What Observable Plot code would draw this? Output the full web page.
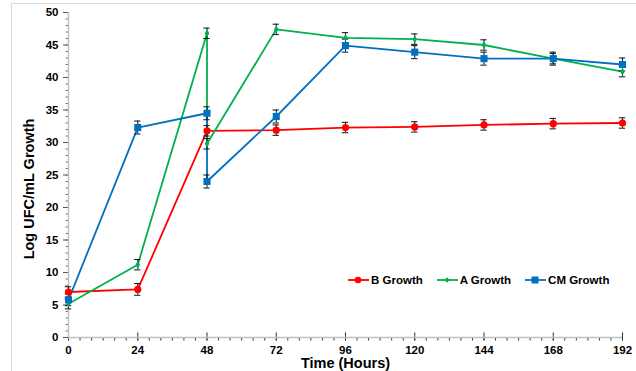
<!DOCTYPE html>
<html>
<head>
<meta charset="utf-8">
<script src="https://cdn.jsdelivr.net/npm/d3@7"></script>
<script src="https://cdn.jsdelivr.net/npm/@observablehq/plot@0.6"></script>
<style>
  html, body { margin: 0; padding: 0; background: #fff; }
  #wrap { position: relative; width: 636px; height: 371px; overflow: hidden; font-family: "Liberation Sans", Arial, sans-serif; }
  #frame { position: absolute; left: 11px; top: 3px; width: 640px; height: 380px; border: 1px solid #d9d9d9; box-sizing: border-box; }
  #legend { position: absolute; left: 348px; top: 274px; display: flex; gap: 14px; font-size: 11.5px; font-weight: bold; color: #000; }
  #legend span { display: inline-flex; align-items: center; gap: 2px; }
  #chart { position: absolute; left: 0; top: 0; }
</style>
</head>
<body>
<div id="wrap">
  <div id="frame"></div>
  <div id="chart"></div>
  <div id="legend"></div>
</div>
<script>
// Data
const seriesNames = ["B Growth", "A Growth", "CM Growth"];
const seriesColors = ["#FF0000", "#00B050", "#0070C0"];

const bHours  = [0, 24, 48, 72, 96, 120, 144, 168, 192];
const bValues = [7.0, 7.4, 31.8, 31.9, 32.3, 32.4, 32.7, 32.9, 33.0];
const bErrors = [0.8, 0.9, 0.8, 0.8, 0.8, 0.8, 0.8, 0.8, 0.8];

const aHours  = [0, 24, 48, 48, 72, 96, 120, 144, 168, 192];
const aValues = [5.2, 11.2, 46.8, 29.8, 47.4, 46.1, 45.9, 45.0, 42.9, 40.9];
const aErrors = [0.8, 0.8, 0.8, 0.8, 0.8, 0.8, 0.8, 0.8, 0.8, 0.8];

const cmHours  = [0, 24, 48, 48, 72, 96, 120, 144, 168, 192];
const cmValues = [5.8, 32.3, 34.5, 24.0, 34.0, 44.9, 43.9, 42.9, 42.9, 42.0];
const cmErrors = [0.9, 1.0, 1.0, 1.0, 1.0, 1.0, 1.0, 1.0, 1.0, 1.0];

const xTicks = [0, 24, 48, 72, 96, 120, 144, 168, 192];
const yTicks = [0, 5, 10, 15, 20, 25, 30, 35, 40, 45, 50];
const xTitle = "Time (Hours)";
const yTitle = "Log UFC/mL Growth";

const rows = [];
[[bHours, bValues, bErrors], [aHours, aValues, aErrors], [cmHours, cmValues, cmErrors]].forEach(([h, v, e], i) => {
  h.forEach((x, j) => rows.push({series: seriesNames[i], x, y: v[j], err: e[j]}));
});
const bRows = rows.filter(d => d.series === "B Growth");
const aRows = rows.filter(d => d.series === "A Growth");
const cmRows = rows.filter(d => d.series === "CM Growth");

const font = {fontWeight: "bold", fontSize: 11.5, fill: "#000"};

const chart = Plot.plot({
  width: 636,
  height: 371,
  marginLeft: 68,
  marginRight: 14,
  marginTop: 12,
  marginBottom: 34,
  style: {fontFamily: "'Liberation Sans', Arial, sans-serif", background: "transparent", overflow: "visible"},
  x: {domain: [0, 192]},
  y: {domain: [0, 50]},
  color: {domain: seriesNames, range: seriesColors},
  marks: [
    // minor ticks
    Plot.axisY(d3.range(0, 51, 1), {tickSize: 2.5, text: null, stroke: "#777", label: null}),
    Plot.axisX(d3.range(0, 193, 4), {tickSize: 3.5, text: null, stroke: "#333", label: null}),
    // major ticks and labels
    Plot.axisY(yTicks, {tickSize: 5, tickPadding: 5, stroke: "#555", ...font, label: null}),
    Plot.axisX(xTicks, {tickSize: 3.5, tickPadding: 5, stroke: "#333", ...font, label: null}),
    Plot.ruleX(xTicks, {y1: 0, y2: 0.7, stroke: "#333"}),
    // axis lines
    Plot.ruleY([0], {stroke: "#bfbfbf", strokeWidth: 1.5}),
    Plot.ruleX([0], {stroke: "#bfbfbf", strokeWidth: 1.5}),
    // axis titles
    Plot.text([xTitle], {text: d => d, frameAnchor: "bottom", textAnchor: "middle", lineAnchor: "middle", dy: 25.5, fontWeight: "bold", fontSize: 14.5, fill: "#000"}),
    Plot.text([yTitle], {text: d => d, frameAnchor: "left", textAnchor: "middle", lineAnchor: "middle", rotate: -90, dx: -39.5, dy: 14, fontWeight: "bold", fontSize: 14.5, fill: "#000"}),
    // lines
    Plot.line(rows, {x: "x", y: "y", z: "series", stroke: "series", strokeWidth: 1.8}),
    // error bars
    Plot.ruleX(rows, {x: "x", y1: d => d.y - d.err, y2: d => d.y + d.err, stroke: "#111", strokeWidth: 1}),
    Plot.ruleY(rows, {y: d => d.y - d.err, x1: d => d.x - 1.1, x2: d => d.x + 1.1, stroke: "#111", strokeWidth: 1}),
    Plot.ruleY(rows, {y: d => d.y + d.err, x1: d => d.x - 1.1, x2: d => d.x + 1.1, stroke: "#111", strokeWidth: 1}),
    // markers
    Plot.dot(bRows, {x: "x", y: "y", fill: "series", r: 3.6, symbol: "circle"}),
    Plot.dot(aRows, {x: "x", y: "y", fill: "series", r: 2.4, symbol: "diamond"}),
    Plot.dot(cmRows, {x: "x", y: "y", fill: "series", r: 4, symbol: "square"})
  ]
});
document.getElementById("chart").appendChild(chart);

// Legend
const shapes = [
  '<circle cx="10" cy="5" r="3.3" fill="COLOR"/>',
  '<path d="M10,2.3 L12.7,5 L10,7.7 L7.3,5 Z" fill="COLOR"/>',
  '<rect x="6.5" y="1.5" width="7" height="7" fill="COLOR"/>'
];
const legend = document.getElementById("legend");
seriesNames.forEach((name, i) => {
  const span = document.createElement("span");
  span.innerHTML = `<svg width="21" height="10"><line x1="0" y1="5" x2="21" y2="5" stroke="${seriesColors[i]}" stroke-width="1.8"/>${shapes[i].replace("COLOR", seriesColors[i])}</svg>${name}`;
  legend.appendChild(span);
});
</script>
</body>
</html>
